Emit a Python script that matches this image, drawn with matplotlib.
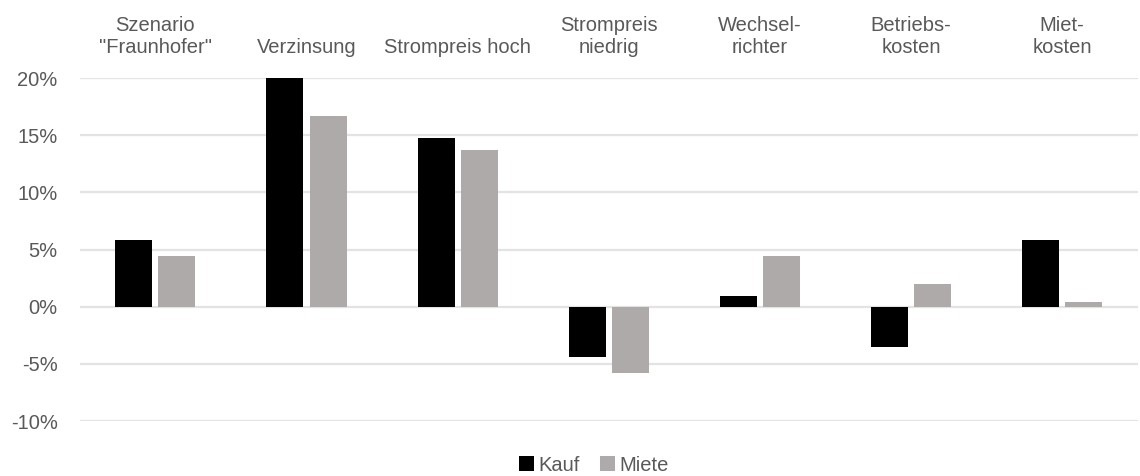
import numpy as np
import matplotlib
matplotlib.use("Agg")
import matplotlib.pyplot as plt
from matplotlib.ticker import PercentFormatter

# Szenarien und Ergebnisse (Änderung der Rendite)
szenarien = ['Szenario\n"Fraunhofer"', 'Verzinsung', 'Strompreis hoch', 'Strompreis\nniedrig',
             'Wechsel-\nrichter', 'Betriebs-\nkosten', 'Miet-\nkosten']
kauf = [5.8, 20.0, 14.8, -4.4, 0.9, -3.5, 5.8]
miete = [4.4, 16.7, 13.7, -5.8, 4.4, 2.0, 0.4]
yticks = [-10, -5, 0, 5, 10, 15, 20]

plt.rcParams['font.family'] = ['Liberation Sans Narrow', 'Liberation Sans', 'DejaVu Sans']
plt.rcParams['axes.unicode_minus'] = False
grau_text = '#595959'
fs = 14.5

fig = plt.figure(figsize=(11.4, 4.76), dpi=100)
ax = fig.add_axes([0.070, 0.1155, 0.928, 0.7205])

x = np.arange(len(szenarien))
b = 0.245
ax.bar(x - 0.143, kauf, width=b, color='black', label='Kauf', zorder=3)
ax.bar(x + 0.143, miete, width=b, color='#aeaaaa', label='Miete', zorder=3)

ax.set_xlim(-0.5, len(szenarien) - 0.5)
ax.set_ylim(-10, 20)
ax.set_yticks(yticks)
ax.yaxis.set_major_formatter(PercentFormatter(decimals=0))
ax.grid(axis='y', color='#e3e3e3', linewidth=1.6, zorder=0)

ax.xaxis.tick_top()
ax.set_xticks(x)
ax.set_xticklabels(szenarien, fontsize=fs, color=grau_text, linespacing=1.2)
ax.tick_params(axis='x', length=0, pad=15)
ax.tick_params(axis='y', length=0, pad=16, labelsize=fs, labelcolor=grau_text)
for s in ax.spines.values():
    s.set_visible(False)

fig.legend(loc='lower center', bbox_to_anchor=(0.521, -0.035), ncol=2, frameon=False,
           fontsize=fs, labelcolor=grau_text, handlelength=0.75, handleheight=0.75,
           handletextpad=0.2, columnspacing=1.0)

fig.savefig('out.png', dpi=100)
